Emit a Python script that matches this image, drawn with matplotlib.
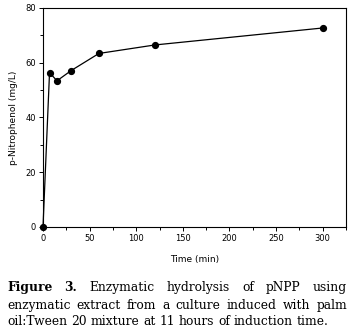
import matplotlib
matplotlib.use("Agg")
import matplotlib.pyplot as plt
from matplotlib.ticker import MultipleLocator

time_min = [0, 7, 15, 30, 60, 120, 300]
pnp_mgL = [0, 56.4, 53.4, 57.1, 63.4, 66.5, 72.7]

caption_lines = [
    [("Figure", "bold"), ("3.", "bold"), ("Enzymatic", "normal"), ("hydrolysis", "normal"),
     ("of", "normal"), ("pNPP", "normal"), ("using", "normal")],
    [(w, "normal") for w in "enzymatic extract from a culture induced with palm".split()],
    [(w, "normal") for w in "oil:Tween 20 mixture at 11 hours of induction time.".split()],
]

W, H = 355, 328
fig = plt.figure(figsize=(W / 100, H / 100), dpi=100)
ax = fig.add_axes([43 / W, 1 - 227 / H, 303 / W, 219 / H])
ax.plot(time_min, pnp_mgL, color="black", lw=0.9, marker="o", ms=4.2, clip_on=False, zorder=3)
ax.set_xlim(0, 325)
ax.set_ylim(0, 80)
ax.xaxis.set_major_locator(MultipleLocator(50))
ax.xaxis.set_minor_locator(MultipleLocator(25))
ax.yaxis.set_major_locator(MultipleLocator(20))
ax.yaxis.set_minor_locator(MultipleLocator(10))
ax.tick_params(which="major", direction="out", length=3, width=0.7, labelsize=6, pad=2)
ax.tick_params(which="minor", direction="out", length=2, width=0.7)
for s in ax.spines.values():
    s.set_linewidth(0.8)
ax.set_xlabel("Time (min)", fontsize=6.5, labelpad=8.5)
ax.set_ylabel("p-Nitrophenol (mg/L)", fontsize=6.5, labelpad=5.5)

fam = "DejaVu Serif"
x_left, x_right = 7, 347
last_line_width = 319
baselines = [291, 309, 325]
fig.canvas.draw()
renderer = fig.canvas.get_renderer()

# fit font size so the last (non-justified) line matches the reference width
fs = 9.0
probe = fig.text(0, 0, "oil:Tween 20 mixture at 11 hours of induction time.", fontsize=fs, family=fam)
pw = probe.get_window_extent(renderer).width
fs = fs * last_line_width / pw
probe.remove()

for i, (words, yb) in enumerate(zip(caption_lines, baselines)):
    texts = []
    for w, wt in words:
        t = fig.text(0, 1 - yb / H, w, fontsize=fs, family=fam, weight=wt, va="baseline", ha="left")
        texts.append(t)
    widths = [t.get_window_extent(renderer).width for t in texts]
    justify = i < len(caption_lines) - 1
    if justify:
        gap = (x_right - x_left - sum(widths)) / (len(words) - 1)
    else:
        sp = fig.text(0, 0, "a a", fontsize=fs, family=fam)
        sp2 = fig.text(0, 0, "aa", fontsize=fs, family=fam)
        gap = sp.get_window_extent(renderer).width - sp2.get_window_extent(renderer).width
        sp.remove(); sp2.remove()
    x = x_left
    for t, wd in zip(texts, widths):
        t.set_x(x / W)
        x += wd + gap

fig.savefig("out.png", dpi=100)
